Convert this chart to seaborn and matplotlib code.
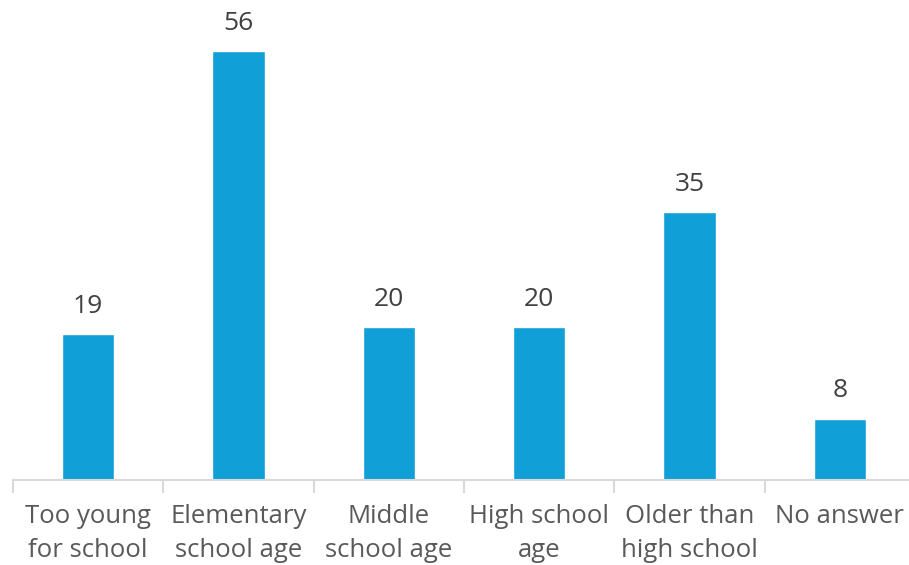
import matplotlib
matplotlib.use("Agg")
import matplotlib.pyplot as plt
import seaborn as sns
import pandas as pd
import numpy as np
from matplotlib.ticker import FixedLocator

categories = ["Too young\nfor school", "Elementary\nschool age", "Middle\nschool age",
              "High school\nage", "Older than\nhigh school", "No answer"]
values = [19, 56, 20, 20, 35, 8]

sns.set_theme(style="white")
plt.rcParams['font.family'] = ['Open Sans', 'DejaVu Sans']

df = pd.DataFrame({"cat": categories, "val": values})

fig = plt.figure(figsize=(9.09, 5.65), dpi=100)
W, H = 909, 565
ax = fig.add_axes([13 / W, 1 - 480 / H, (915 - 13) / W, 480 / H])
sns.barplot(data=df, x="cat", y="val", color="#119FD8", saturation=1, width=0.35, ax=ax)

ax.set_xlim(-0.5, len(categories) - 0.5)
ax.set_ylim(0, 480 / 7.66)
for c in ax.containers:
    ax.bar_label(c, labels=[str(v) for v in values], padding=11, fontsize=19, color="#404040")

for s in ["top", "right", "left"]:
    ax.spines[s].set_visible(False)
ax.spines["bottom"].set_color("#D9D9D9")
ax.spines["bottom"].set_linewidth(1.5)
ax.set_yticks([])
ax.set_xlabel("")
ax.set_ylabel("")
ax.tick_params(axis="x", which="major", length=0, pad=17, labelsize=18.5, labelcolor="#595959")
ax.xaxis.set_minor_locator(FixedLocator(np.arange(-0.5, len(categories), 1.0)))
ax.tick_params(axis="x", which="minor", length=9, width=1.5, color="#D9D9D9", bottom=True)
for t in ax.get_xticklabels():
    t.set_linespacing(1.52)

fig.savefig("out.png", dpi=100)
